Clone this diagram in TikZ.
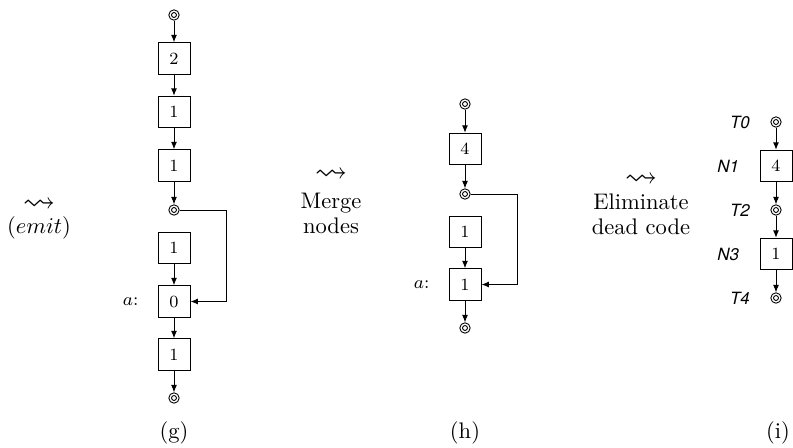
\documentclass[tikz,border=0pt]{standalone}
\usepackage{amssymb}
\usepackage{fontspec}
\newfontfamily\heros{TeX Gyre Heros}
\usetikzlibrary{arrows.meta}
\begin{document}
\begin{tikzpicture}[x=0.444pt,y=-0.444pt,
  every node/.append style={line width=0.4pt},
  blk/.style={draw, minimum width=14.2pt, minimum height=14pt, inner sep=0pt, font=\fontsize{7.6}{9}\selectfont},
  term/.style={circle, draw, minimum size=4.6pt, inner sep=0pt,
    path picture={\draw[line width=0.4pt] (path picture bounding box.center) circle (1.1pt);}},
  arr/.style={-{Latex[length=3.3pt,width=2.6pt]}, line width=0.4pt},
  txt/.style={align=center, font=\fontsize{10}{11}\selectfont},
  sq/.style={inner sep=0pt, font=\Large},
  alab/.style={label={[label distance=5pt,font=\footnotesize]left:$a$:}},
  tlab/.style={label={[label distance=5.6pt,font=\fontsize{7.5}{9}\selectfont\heros\itshape]left:#1}}
]
\useasboundingbox (0,0) rectangle (793,447);

% (g)
\node[term] (g0) at (174,15) {};
\node[blk] (g1) at (174,58.5) {2};
\node[blk] (g2) at (174,112) {1};
\node[blk] (g3) at (174,165.5) {1};
\node[term] (g4) at (174,210) {};
\node[blk] (g5) at (174,248) {1};
\node[blk,alab] (g6) at (174,301.5) {0};
\node[blk] (g7) at (174,354.5) {1};
\node[term] (g8) at (174,398) {};
\draw[arr] (g0) -- (g1);
\draw[arr] (g1) -- (g2);
\draw[arr] (g2) -- (g3);
\draw[arr] (g3) -- (g4);
\draw[arr] (g5) -- (g6);
\draw[arr] (g6) -- (g7);
\draw[arr] (g7) -- (g8);
\draw[arr] (g4.east) -- ++(47,0) |- (g6.east);

% transition 1
\node[sq] (s1) at (39,205) {$\leadsto$};
\node[txt] (t1) at (39,228) {$(emit)$};

% (h)
\node[term] (h0) at (465,104) {};
\node[blk] (h1) at (465,149) {4};
\node[term] (h2) at (465,194) {};
\node[blk] (h3) at (465,232) {1};
\node[blk,alab] (h4) at (465,284.5) {1};
\node[term] (h5) at (465,328) {};
\draw[arr] (h0) -- (h1);
\draw[arr] (h1) -- (h2);
\draw[arr] (h3) -- (h4);
\draw[arr] (h4) -- (h5);
\draw[arr] (h2.east) -- ++(47,0) |- (h4.east);

% transition 2
\node[sq] (s2) at (331,175) {$\leadsto$};
\node[txt] (t2) at (331,213.5) {Merge\\nodes};

% transition 3
\node[sq] (s3) at (641,180) {$\leadsto$};
\node[txt] (t3) at (641,214.5) {Eliminate\\dead code};

% (i)
\node[term,tlab=T0] (i0) at (776,122) {};
\node[blk,tlab=N1] (i1) at (776,166) {4};
\node[term,tlab=T2] (i2) at (776,210) {};
\node[blk,tlab=N3] (i3) at (776,254) {1};
\node[term,tlab=T4] (i4) at (776,298) {};
\draw[arr] (i0) -- (i1);
\draw[arr] (i1) -- (i2);
\draw[arr] (i2) -- (i3);
\draw[arr] (i3) -- (i4);

% captions
\node (cg) at (174,433) {(g)};
\node (ch) at (465,433) {(h)};
\node (ci) at (778,433) {(i)};
\end{tikzpicture}
\end{document}
